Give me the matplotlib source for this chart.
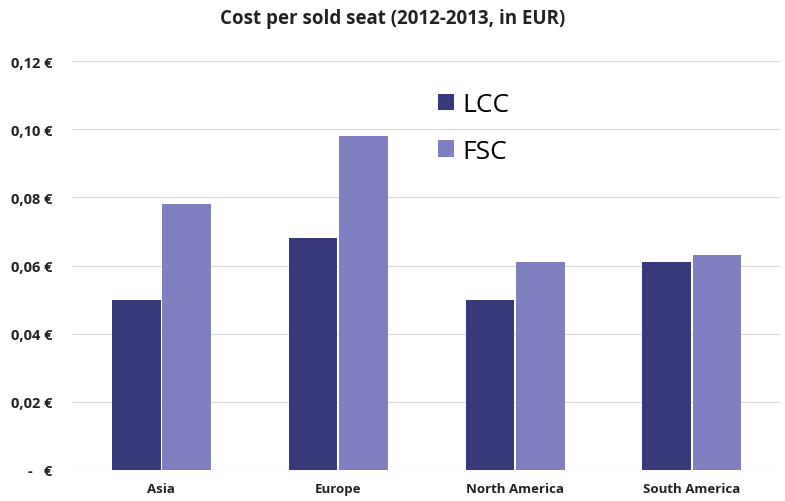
import matplotlib.pyplot as plt
import numpy as np
from matplotlib.ticker import FuncFormatter

plt.rcParams['font.family'] = ['Open Sans', 'DejaVu Sans']

regions = ["Asia", "Europe", "North America", "South America"]
lcc = [0.050, 0.068, 0.050, 0.061]
fsc = [0.078, 0.098, 0.061, 0.063]
yticks = [0, 0.02, 0.04, 0.06, 0.08, 0.10, 0.12]


def euro(v, pos):
    if abs(v) < 1e-9:
        return "-   €"
    return ("%.2f €" % v).replace(".", ",")


fig = plt.figure(figsize=(7.85, 5.02), dpi=100)
ax = fig.add_axes([0.093, 0.062, 0.901, 0.814])

x = np.arange(len(regions))
w = 0.275
ax.bar(x - w / 2 - 0.005, lcc, w, color='#393a79', label='LCC', zorder=2)
ax.bar(x + w / 2 + 0.005, fsc, w, color='#8080c0', label='FSC', zorder=2)

ax.set_xlim(-0.5, 3.5)
ax.set_ylim(0, 0.12)
ax.set_yticks(yticks)
ax.yaxis.set_major_formatter(FuncFormatter(euro))
ax.set_xticks(x)
ax.set_xticklabels(regions)
ax.grid(axis='y', color='#d9d9d9', lw=0.8, zorder=0)
for s in ax.spines.values():
    s.set_visible(False)
ax.tick_params(length=0, colors='#222222')
ax.tick_params(axis='y', labelsize=10.5, pad=15)
ax.tick_params(axis='x', labelsize=9.5, pad=9)
for lbl in ax.get_xticklabels() + ax.get_yticklabels():
    lbl.set_fontweight('bold')

fig.text(0.5, 0.962, "Cost per sold seat (2012-2013, in EUR)", ha='center',
         va='center', fontsize=13.5, fontweight='bold', color='#222222')

ax.legend(loc='upper left', bbox_to_anchor=(0.483, 0.982), frameon=False,
          fontsize=19, handlelength=0.6, handleheight=0.6, handletextpad=0.3,
          labelspacing=0.82)

fig.savefig("out.png", dpi=100)
